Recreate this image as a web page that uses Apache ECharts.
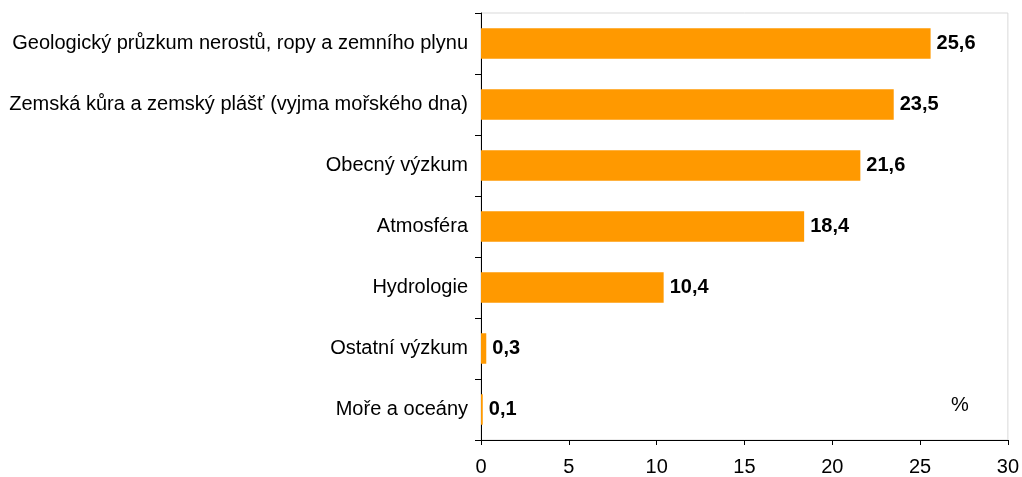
<!DOCTYPE html>
<html>
<head>
<meta charset="utf-8">
<script src="https://cdn.jsdelivr.net/npm/echarts@6/dist/echarts.min.js"></script>
<style>
html,body{margin:0;padding:0;background:#fff;}
#main{width:1022px;height:477px;}
</style>
</head>
<body>
<div id="main"></div>
<script>
// kategorie shora dolů
var categories=["Geologický průzkum nerostů, ropy a zemního plynu","Zemská kůra a zemský plášť (vyjma mořského dna)","Obecný výzkum","Atmosféra","Hydrologie","Ostatní výzkum","Moře a oceány"];
var values=[25.6,23.5,21.6,18.4,10.4,0.3,0.1];
var xTicks=[0,5,10,15,20,25,30];

var myChart=echarts.init(document.getElementById("main"));
var option={
	animation:false,
	textStyle:{fontFamily:"Liberation Sans, Arial, sans-serif"},
	grid:{left:481,right:13,top:13,bottom:35,show:true,borderColor:"#d9d9d9",borderWidth:1},
	xAxis:{
		type:"value",
		min:xTicks[0],
		max:xTicks[xTicks.length-1],
		interval:5,
		axisLine:{show:true,lineStyle:{color:"#000",width:1}},
		axisTick:{show:true,length:5,lineStyle:{color:"#000"}},
		splitLine:{show:false},
		axisLabel:{color:"#000",fontSize:20,margin:17}
	},
	yAxis:{
		type:"category",
		inverse:true,
		data:categories,
		axisLine:{show:true,lineStyle:{color:"#000",width:1}},
		axisTick:{show:true,length:6,lineStyle:{color:"#000"}},
		axisLabel:{color:"#000",fontSize:20,margin:13}
	},
	series:[{
		type:"bar",
		data:values,
		barWidth:"50%",
		itemStyle:{color:"#ff9900"},
		label:{
			show:true,
			position:"right",
			distance:6,
			color:"#000",
			fontSize:20,
			fontWeight:"bold",
			formatter:function(p){return String(p.value).replace(".",",");}
		}
	}],
	graphic:[{
		type:"text",
		left:951,
		top:395,
		style:{text:"%",fontSize:20,fill:"#000",fontFamily:"Liberation Sans, Arial, sans-serif"}
	}]
};
myChart.setOption(option);
</script>
</body>
</html>
